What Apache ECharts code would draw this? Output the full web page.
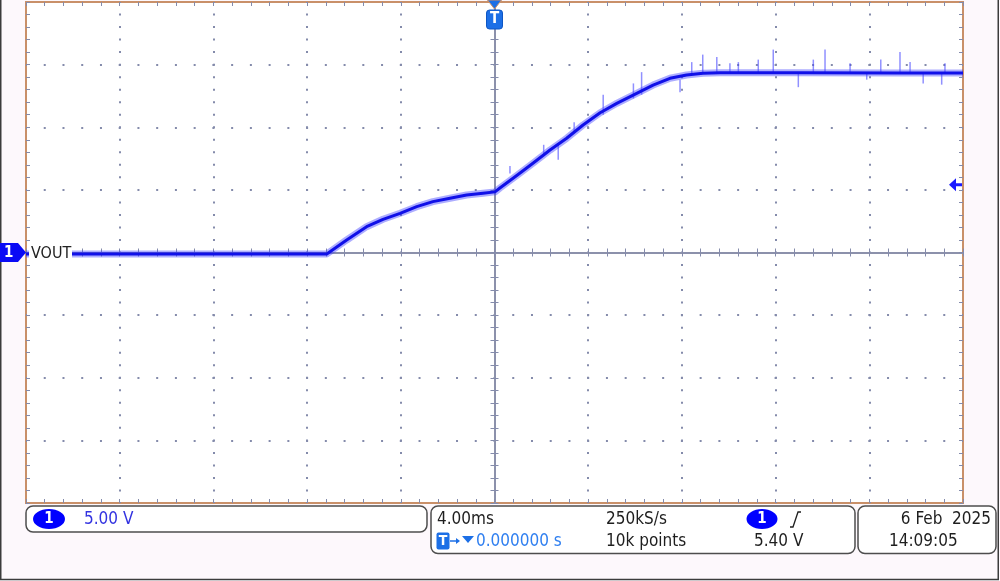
<!DOCTYPE html>
<html>
<head>
<meta charset="utf-8">
<script src="https://cdn.jsdelivr.net/npm/echarts/dist/echarts.min.js"></script>
<style>
  html, body { margin: 0; padding: 0; background: #fdf8fc; }
  #chart { width: 1000px; height: 581px; }
</style>
</head>
<body>
<div id="chart"></div>
<script>
// ---- data (time in ms, voltage in V) ----
const timeMs = [-20, -7.16, -6.31, -5.46, -4.76, -4.03, -3.32, -2.63, -1.90, -1.19, -0.49, 0.02, 0.23, 0.95, 1.64, 2.37, 3.08, 3.78, 4.51, 5.22, 6.07, 6.77, 7.49, 8.20, 8.90, 9.63, 13.0, 17.3, 20];
const voutV  = [-0.12, -0.12, 1.00, 2.06, 2.65, 3.13, 3.66, 4.06, 4.33, 4.59, 4.73, 4.84, 5.15, 6.15, 7.12, 8.18, 9.12, 10.18, 11.16, 11.91, 12.71, 13.37, 13.91, 14.17, 14.31, 14.36, 14.36, 14.34, 14.33];
// noise spikes: [time ms, from V, to V]
const spikeTime = [0.66, 2.10, 2.72, 3.40, 4.64, 5.93, 6.28, 7.92, 8.42, 8.89, 9.49, 10.05, 10.41, 11.26, 11.90, 12.97, 13.61, 14.11, 15.18, 15.89, 16.49, 17.31, 17.74, 18.30, 19.09, 19.23];
const spikeFrom = [6.3, 7.9, 8.6, 9.6, 11.0, 12.3, 12.6, 13.8, 14.3, 14.3, 14.35, 14.35, 14.35, 14.35, 14.35, 14.35, 14.35, 14.35, 14.35, 14.35, 14.35, 14.35, 14.35, 14.35, 14.35, 14.35];
const spikeTo   = [6.9, 8.6, 7.4, 10.4, 12.6, 13.5, 14.4, 12.8, 15.2, 15.8, 15.6, 15.1, 15.2, 15.4, 16.2, 13.2, 15.4, 16.2, 15.1, 13.8, 15.4, 16.0, 15.2, 13.5, 13.4, 15.1];

// axis scales: 10 div x 4 ms, 8 div x 5 V
const xMin = -20, xMax = 20, xDiv = 4;
const yMin = -20, yMax = 20, yDiv = 5;
const groundLevel = 0;      // channel 1 reference marker
const triggerLevel = 5.40;  // trigger level arrow

// readout texts
const chLabel = 'VOUT';
const chScale = '5.00 V';
const timeScale = '4.00ms';
const sampleRate = '250kS/s';
const trigPos = '0.000000 s';
const recLen = '10k points';
const trigLevelText = '5.40 V';
const dateText = '6 Feb  2025';
const timeText = '14:09:05';

const FONT = "'DejaVu Sans Condensed', 'DejaVu Sans', sans-serif";
const tickColor = '#848bab';
const centerColor = '#8c91ab';
const borderColor = '#c99069';
const blue = '#1010e8';
const tBlue = '#1c6fe6';

function borderX(pos, grid) {
  return {
    type: 'value', min: xMin, max: xMax, interval: xDiv, position: pos,
    axisLine: { show: false, onZero: false },
    axisTick: { show: true, inside: true, length: 4, lineStyle: { color: tickColor, width: 1 } },
    minorTick: { show: true, splitNumber: 5, length: 4, lineStyle: { color: tickColor, width: 1 } },
    axisLabel: { show: false },
    splitLine: grid ? { show: true, showMinLine: false, showMaxLine: false,
      lineStyle: { color: tickColor, width: 2, type: [2, 10.525], dashOffset: 1 } } : { show: false }
  };
}
function centerX(inside) {
  return {
    type: 'value', min: xMin, max: xMax, interval: xDiv, position: 'bottom',
    axisLine: { show: true, onZero: true, onZeroAxisIndex: 0, lineStyle: { color: centerColor, width: 2 } },
    axisTick: { show: true, inside: inside, length: 4, lineStyle: { color: tickColor, width: 1 } },
    minorTick: { show: true, splitNumber: 5, length: 4, lineStyle: { color: tickColor, width: 1 } },
    axisLabel: { show: false }, splitLine: { show: false }
  };
}
function borderY(pos, grid) {
  return {
    type: 'value', min: yMin, max: yMax, interval: yDiv, position: pos,
    axisLine: { show: false, onZero: false },
    axisTick: { show: true, inside: true, length: 4, lineStyle: { color: tickColor, width: 1 } },
    minorTick: { show: true, splitNumber: 5, length: 4, lineStyle: { color: tickColor, width: 1 } },
    axisLabel: { show: false },
    splitLine: grid ? { show: true, showMinLine: false, showMaxLine: false,
      lineStyle: { color: tickColor, width: 2, type: [2, 16.74], dashOffset: 1 } } : { show: false }
  };
}
function centerY(inside) {
  return {
    type: 'value', min: yMin, max: yMax, interval: yDiv, position: 'left',
    axisLine: { show: true, onZero: true, onZeroAxisIndex: 0, lineStyle: { color: centerColor, width: 2 } },
    axisTick: { show: true, inside: inside, length: 4, lineStyle: { color: tickColor, width: 1 } },
    minorTick: { show: true, splitNumber: 5, length: 4, lineStyle: { color: tickColor, width: 1 } },
    axisLabel: { show: false }, splitLine: { show: false }
  };
}

const trace = timeMs.map((t, i) => [t, voutV[i]]);
const spikes = spikeTime.map((t, i) => [t, spikeFrom[i], spikeTo[i]]);

const chart = echarts.init(document.getElementById('chart'), null, { renderer: 'canvas' });

function txt(x, y, s, color, opts) {
  return Object.assign({
    type: 'text', x: x, y: y, z: 100,
    style: { text: s, fill: color, font: '17px ' + FONT, verticalAlign: 'middle' }
  }, opts || {});
}

const option = {
  animation: false,
  backgroundColor: '#fdf8fc',
  grid: { left: 26, top: 2, width: 937, height: 501, show: true, backgroundColor: '#ffffff',
          borderColor: borderColor, borderWidth: 2 },
  xAxis: [borderX('bottom', true), borderX('top', false), centerX(false), centerX(true)],
  yAxis: [borderY('left', true), borderY('right', false), centerY(false), centerY(true)],
  series: [
    { type: 'line', xAxisIndex: 0, yAxisIndex: 0, data: trace, showSymbol: false, z: 3,
      lineStyle: { color: 'rgba(60,60,255,0.42)', width: 7, join: 'round' } },
    { type: 'custom', xAxisIndex: 0, yAxisIndex: 0, data: spikes, z: 4,
      encode: { x: 0, y: [1, 2] },
      renderItem: function (params, api) {
        const p1 = api.coord([api.value(0), api.value(1)]);
        const p2 = api.coord([api.value(0), api.value(2)]);
        return { type: 'line', shape: { x1: p1[0], y1: p1[1], x2: p2[0], y2: p2[1] },
                 style: { stroke: 'rgba(70,70,255,0.6)', lineWidth: 1.5 } };
      } },
    { type: 'line', xAxisIndex: 0, yAxisIndex: 0, data: trace, showSymbol: false, z: 5,
      lineStyle: { color: blue, width: 3, join: 'round' } }
  ]
};
chart.setOption(option);

// markers positioned through the chart's own scales
const gnd = chart.convertToPixel({ xAxisIndex: 0, yAxisIndex: 0 }, [xMin, groundLevel]);
const trg = chart.convertToPixel({ xAxisIndex: 0, yAxisIndex: 0 }, [xMax, triggerLevel]);
const tZero = chart.convertToPixel({ xAxisIndex: 0, yAxisIndex: 0 }, [0, yMax]);
const gy = gnd[1], gx = gnd[0];
const ty = trg[1], tx = trg[0];
const cx = tZero[0];

const graphics = [
  // outer frame
  { type: 'rect', z: 1, shape: { x: 0.75, y: -5, width: 997.5, height: 584.5 },
    style: { fill: null, stroke: '#3c3c3c', lineWidth: 1.5 } },
  // channel 1 ground marker
  { type: 'polygon', z: 100, shape: { points: [[0, gy - 9.5], [gx - 8, gy - 9.5], [gx, gy], [gx - 8, gy + 9.5], [0, gy + 9.5]] },
    style: { fill: '#0a0af5' } },
  txt(4, gy + 0.5, '1', '#ffffff', { style: { text: '1', fill: '#fff', font: 'bold 15px ' + FONT, verticalAlign: 'middle' } }),
  // VOUT label
  { type: 'rect', z: 99, shape: { x: gx + 3, y: gy - 9, width: 43, height: 18 }, style: { fill: '#ffffff' } },
  txt(gx + 5, gy + 1, chLabel, '#222222', { style: { text: chLabel, fill: '#222', font: '16px ' + FONT, verticalAlign: 'middle' } }),
  // trigger level arrow
  { type: 'polygon', z: 100, shape: { points: [[tx - 14, ty], [tx - 7, ty - 6.5], [tx - 7, ty - 1.5], [tx - 1, ty - 1.5], [tx - 1, ty + 1.5], [tx - 7, ty + 1.5], [tx - 7, ty + 6.5]] },
    style: { fill: '#1a1aff' } },
  // trigger position marker
  { type: 'polygon', z: 100, shape: { points: [[cx - 7, 0], [cx + 7, 0], [cx, 9]] }, style: { fill: tBlue, stroke: '#c99069', lineWidth: 1 } },
  { type: 'rect', z: 100, shape: { x: cx - 8, y: 10, width: 16, height: 19, r: 3 }, style: { fill: tBlue, stroke: '#0e56c4', lineWidth: 1 } },
  { type: 'text', z: 101, x: cx, y: 19.5, style: { text: 'T', fill: '#fff', font: 'bold 15px ' + FONT, align: 'center', verticalAlign: 'middle' } },

  // readout box 1
  { type: 'rect', z: 50, shape: { x: 26, y: 506, width: 401, height: 26, r: 7 }, style: { fill: '#ffffff', stroke: '#4d4d4d', lineWidth: 1.5 } },
  { type: 'ellipse', z: 51, shape: { cx: 49, cy: 519, rx: 16, ry: 10 }, style: { fill: '#0000ff' } },
  { type: 'text', z: 52, x: 49, y: 519.5, style: { text: '1', fill: '#fff', font: 'bold 15px ' + FONT, align: 'center', verticalAlign: 'middle' } },
  txt(84, 519.5, chScale, '#3232e0'),

  // readout box 2
  { type: 'rect', z: 50, shape: { x: 431, y: 506, width: 424, height: 47.5, r: 7 }, style: { fill: '#ffffff', stroke: '#4d4d4d', lineWidth: 1.5 } },
  txt(437, 519.5, timeScale, '#1e1e1e'),
  txt(606, 519.5, sampleRate, '#1e1e1e'),
  { type: 'ellipse', z: 51, shape: { cx: 762, cy: 519, rx: 15.5, ry: 10 }, style: { fill: '#0000ff' } },
  { type: 'text', z: 52, x: 762, y: 519.5, style: { text: '1', fill: '#fff', font: 'bold 15px ' + FONT, align: 'center', verticalAlign: 'middle' } },
  { type: 'polyline', z: 51, shape: { points: [[790, 527], [793, 527], [798, 512], [801, 512]] }, style: { stroke: '#1e1e1e', lineWidth: 1.3, fill: null } },
  { type: 'rect', z: 51, shape: { x: 436.5, y: 532.5, width: 13, height: 17, r: 2 }, style: { fill: tBlue } },
  { type: 'text', z: 52, x: 443, y: 541.5, style: { text: 'T', fill: '#fff', font: 'bold 14px ' + FONT, align: 'center', verticalAlign: 'middle' } },
  { type: 'line', z: 51, shape: { x1: 450, y1: 541, x2: 458, y2: 541 }, style: { stroke: tBlue, lineWidth: 1.5 } },
  { type: 'polygon', z: 51, shape: { points: [[456, 538], [460, 541], [456, 544]] }, style: { fill: tBlue } },
  { type: 'polygon', z: 51, shape: { points: [[462, 536], [474, 536], [468, 543]] }, style: { fill: tBlue } },
  txt(476, 541.5, trigPos, '#2f7ff0'),
  txt(606, 541.5, recLen, '#1e1e1e'),
  txt(754, 541.5, trigLevelText, '#1e1e1e'),

  // readout box 3
  { type: 'rect', z: 50, shape: { x: 858, y: 506, width: 138, height: 47.5, r: 7 }, style: { fill: '#ffffff', stroke: '#4d4d4d', lineWidth: 1.5 } },
  { type: 'text', z: 52, x: 991, y: 519.5, style: { text: dateText, fill: '#1e1e1e', font: '17px ' + FONT, align: 'right', verticalAlign: 'middle' } },
  txt(889, 541.5, timeText, '#1e1e1e')
];
chart.setOption({ graphic: graphics });
</script>
</body>
</html>
